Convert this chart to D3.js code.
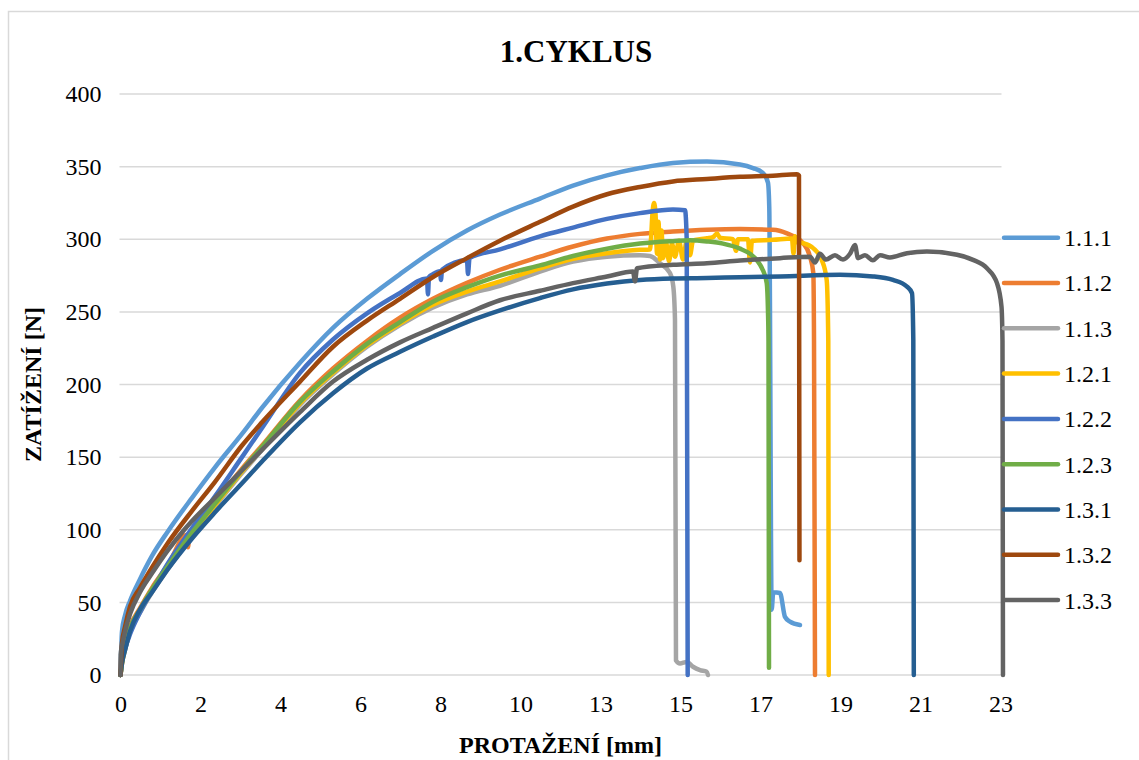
<!DOCTYPE html>
<html>
<head>
<meta charset="utf-8">
<script src="https://cdn.jsdelivr.net/npm/d3@7"></script>
<style>
  body { margin: 0; background: #fff; }
  svg { display: block; }
  svg text { font-family: "Liberation Serif", "Times New Roman", serif !important; fill: #000; }
</style>
</head>
<body>
<svg id="chart" width="1139" height="760"></svg>
<script>
// Elongation axis: every labelled category is 2.09 mm apart, labels rounded to whole mm
const xLabelStep = 2.09;
const xTickLabels = ["0", "2", "4", "6", "8", "10", "13", "15", "17", "19", "21", "23"];
const yTicks = [0, 50, 100, 150, 200, 250, 300, 350, 400];

const seriesNames = ["1.1.1", "1.1.2", "1.1.3", "1.2.1", "1.2.2", "1.2.3", "1.3.1", "1.3.2", "1.3.3"];
const seriesColors = ["#5B9BD5", "#ED7D31", "#A5A5A5", "#FFC000", "#4472C4", "#70AD47", "#255E91", "#9E480E", "#636363"];

// Measured curves: [elongation mm, load N]
const s111 = [[0,0],[0.039,30],[0.118,41],[0.248,51],[0.509,66],[0.823,82],[1.241,99],[1.868,122],[2.469,143],[3.174,166],[3.697,184],[4.689,215],[5.552,239],[6.44,259],[7.302,276],[8.164,292],[9.052,306],[9.914,317],[10.959,328],[11.822,337],[12.71,344],[13.572,349],[14.434,352.5],[15.322,353.5],[16.184,351.5],[16.524,349],[16.785,345.5],[16.915,339],[16.949,322],[17.012,45],[17.054,57],[17.229,56.5],[17.36,40],[17.49,36.7],[17.751,34.4]];

const s112 = [[0,0],[0.039,9],[0.118,20],[0.248,33],[0.509,46],[0.823,60],[1.241,76],[1.737,96.5],[1.763,88],[1.803,97.5],[1.868,99],[2.469,119],[3.174,142],[3.697,158],[4.689,189],[5.552,211],[6.44,230],[7.302,246],[8.164,259],[9.052,270],[9.914,279],[10.959,288],[11.822,295],[12.71,300.5],[13.572,303.7],[14.434,305.3],[15.322,306.5],[16.184,307],[17.046,306.5],[17.412,304],[17.83,297.3],[18.013,288],[18.1,276.7],[18.118,230],[18.144,0]];

const s113 = [[0,0],[0.039,8],[0.118,17],[0.248,30],[0.509,43],[0.823,57],[1.241,73],[1.868,96],[2.469,116],[3.174,139],[3.697,155],[4.689,186],[5.552,207],[6.44,226],[7.302,241],[8.164,253],[9.052,262],[9.914,268],[10.959,277.8],[11.822,284.6],[12.71,288],[13.572,289],[13.833,288.5],[14.094,283.5],[14.355,276.7],[14.442,267.4],[14.486,244.5],[14.512,10],[14.617,8],[14.792,9],[14.957,5.7],[15.139,3.4],[15.314,2.3],[15.348,0]];

const s121 = [[0,0],[0.039,8],[0.118,18],[0.248,31],[0.509,44],[0.823,58],[1.241,74],[1.868,97],[2.469,117],[3.174,140],[3.697,156],[4.689,187],[5.552,208],[6.44,227],[7.302,242],[8.164,255],[9.052,264],[9.914,271],[10.959,280],[11.822,286.5],[12.71,290.4],[13.572,292.7],[13.833,293],[13.859,300],[13.898,318],[13.938,325],[13.977,318],[14.016,290],[14.055,312],[14.094,286],[14.134,306],[14.173,287],[14.251,298],[14.33,285],[14.408,297],[14.486,288],[14.591,299],[14.695,286],[14.8,300],[14.878,289],[14.957,299],[15.139,300],[15.322,300.7],[15.479,301.5],[15.584,304],[15.662,301],[16.002,300],[16.08,292],[16.132,300],[16.393,300],[16.445,284],[16.498,299],[17.046,299.6],[17.542,300.5],[17.582,290],[17.621,302],[17.673,298],[17.838,297.3],[18.099,293.8],[18.319,285.8],[18.449,272],[18.491,230],[18.502,0]];

const s122 = [[0,0],[0.039,10],[0.118,18],[0.248,28],[0.509,43],[0.823,58],[1.241,77],[1.868,101],[2.469,123],[3.174,150],[3.697,170],[4.689,208],[5.552,231],[6.44,249],[7.302,263],[8.007,273],[8.033,262],[8.059,274],[8.164,276],[8.347,278],[8.373,272],[8.399,279],[9.052,285.5],[9.078,276],[9.118,287],[9.914,293],[10.959,302],[11.822,308],[12.71,314],[13.572,318],[14.434,320.5],[14.748,320],[14.792,300],[14.818,0]];

const s123 = [[0,0],[0.039,9],[0.118,19],[0.248,32],[0.509,45],[0.823,59],[1.241,75],[1.868,98],[2.469,118],[3.174,141],[3.697,157],[4.689,188],[5.552,209],[6.44,228],[7.302,243],[8.164,257],[9.052,267],[9.914,275],[10.959,282],[11.822,288.5],[12.71,293.5],[13.572,297],[14.434,298.7],[14.883,299.3],[15.322,298.5],[15.74,297],[16.184,293.5],[16.445,290],[16.628,285.5],[16.759,280],[16.882,270],[16.916,250],[16.929,230],[16.942,5]];

const s131 = [[0,0],[0.039,8],[0.118,17],[0.248,30],[0.509,45],[0.823,57],[1.241,73],[1.868,94],[2.469,112],[3.174,132],[3.697,147],[4.689,174],[5.552,194],[6.44,211],[7.302,222.5],[8.164,233],[9.052,243],[9.914,251],[10.959,259.5],[11.822,265.5],[12.71,269.5],[13.572,272],[14.434,273],[15.322,273.3],[16.184,273.9],[17.229,274.4],[18.796,275.5],[19.658,274.4],[20.181,272],[20.547,267.4],[20.678,262.9],[20.712,230.7],[20.725,0]];

const s132 = [[0,0],[0.039,22],[0.118,33],[0.248,47],[0.509,60],[0.823,74],[1.241,91],[1.868,113],[2.469,133],[3.174,158],[3.697,174],[4.689,202],[5.552,226],[6.44,244],[7.302,259],[8.164,274],[9.052,287],[9.914,299],[10.959,312],[11.822,322.5],[12.71,331],[13.572,336],[14.434,339.8],[15.322,341.5],[16.184,343],[17.046,343.8],[17.673,344.8],[17.725,344],[17.738,79]];

const s133 = [[0,0],[0.005,14],[0.039,20],[0.118,30],[0.248,42],[0.509,57],[0.823,70],[1.241,86],[1.633,99],[1.868,106],[2.469,122],[3.174,141],[3.697,155],[4.689,181],[5.552,202],[6.44,217],[7.302,229],[8.164,239],[9.052,249],[9.914,258],[10.959,264.5],[11.822,269.8],[12.71,274.3],[13.389,277.8],[13.441,271],[13.494,280],[14.434,282.4],[15.322,283.5],[16.184,285.3],[17.229,287],[18.013,288],[18.144,284],[18.274,290],[18.431,286],[18.666,289],[18.875,286],[19.058,290],[19.189,296],[19.267,287],[19.45,289],[19.659,285.5],[19.842,289],[20.103,287.5],[20.547,290.4],[21.069,291.5],[21.853,289.3],[22.271,285.8],[22.637,280],[22.898,269.8],[23.016,253.6],[23.042,230],[23.055,0]];

const seriesData = [s111, s112, s113, s121, s122, s123, s131, s132, s133];

const svg = d3.select("#chart");
const plot = { left: 120.5, right: 1000.5, top: 94, bottom: 675 };

// Chart frame
svg.append("rect")
  .attr("x", 8.5).attr("y", 11.5)
  .attr("width", 1150).attr("height", 780)
  .attr("fill", "#fff").attr("stroke", "#D9D9D9").attr("stroke-width", 1.5);

const xTickValues = xTickLabels.map((d, i) => i * xLabelStep);
const x = d3.scaleLinear()
  .domain([0, xTickValues[xTickValues.length - 1]])
  .range([plot.left, plot.right]);
const y = d3.scaleLinear().domain([0, 400]).range([plot.bottom, plot.top]);

// Horizontal gridlines
svg.append("g").selectAll("line").data(yTicks).join("line")
  .attr("x1", plot.left - 1).attr("x2", plot.right + 1)
  .attr("y1", d => y(d)).attr("y2", d => y(d))
  .attr("stroke", "#D9D9D9").attr("stroke-width", 1.5);

// Axes (labels only)
const yAxis = d3.axisLeft(y).tickValues(yTicks).tickSize(0).tickPadding(19);
svg.append("g").attr("transform", `translate(${plot.left},0)`).call(yAxis)
  .call(g => g.select(".domain").remove())
  .call(g => g.selectAll("text").attr("font-size", 24));

const xAxis = d3.axisBottom(x).tickValues(xTickValues).tickSize(0).tickPadding(20)
  .tickFormat((d, i) => xTickLabels[i]);
svg.append("g").attr("transform", `translate(0,${plot.bottom})`).call(xAxis)
  .call(g => g.select(".domain").remove())
  .call(g => g.selectAll("text").attr("font-size", 24));

// Series
const line = d3.line()
  .x(d => x(d[0]))
  .y(d => y(d[1]))
  .curve(d3.curveMonotoneX);

svg.append("g").selectAll("path").data(seriesData).join("path")
  .attr("d", d => line(d))
  .attr("fill", "none")
  .attr("stroke", (d, i) => seriesColors[i])
  .attr("stroke-width", 4.5)
  .attr("stroke-linecap", "round")
  .attr("stroke-linejoin", "round");

// Title and axis titles
svg.append("text").attr("x", 576).attr("y", 62).attr("text-anchor", "middle")
  .attr("font-size", 31).attr("font-weight", "bold").text("1.CYKLUS");
svg.append("text").attr("x", (plot.left + plot.right) / 2).attr("y", 753)
  .attr("text-anchor", "middle").attr("font-size", 24).attr("font-weight", "bold")
  .text("PROTAŽENÍ [mm]");
svg.append("text")
  .attr("transform", `translate(41,${(plot.top + plot.bottom) / 2}) rotate(-90)`)
  .attr("text-anchor", "middle").attr("font-size", 24).attr("font-weight", "bold")
  .text("ZATÍŽENÍ [N]");

// Legend
const legend = svg.append("g").selectAll("g").data(seriesNames).join("g")
  .attr("transform", (d, i) => `translate(1003,${237.7 + i * 45.3})`);
legend.append("line").attr("x1", 1).attr("x2", 55)
  .attr("stroke", (d, i) => seriesColors[i]).attr("stroke-width", 4.5)
  .attr("stroke-linecap", "round");
legend.append("text").attr("x", 61).attr("dy", "0.35em")
  .attr("font-size", 24).text(d => d);
</script>
</body>
</html>
